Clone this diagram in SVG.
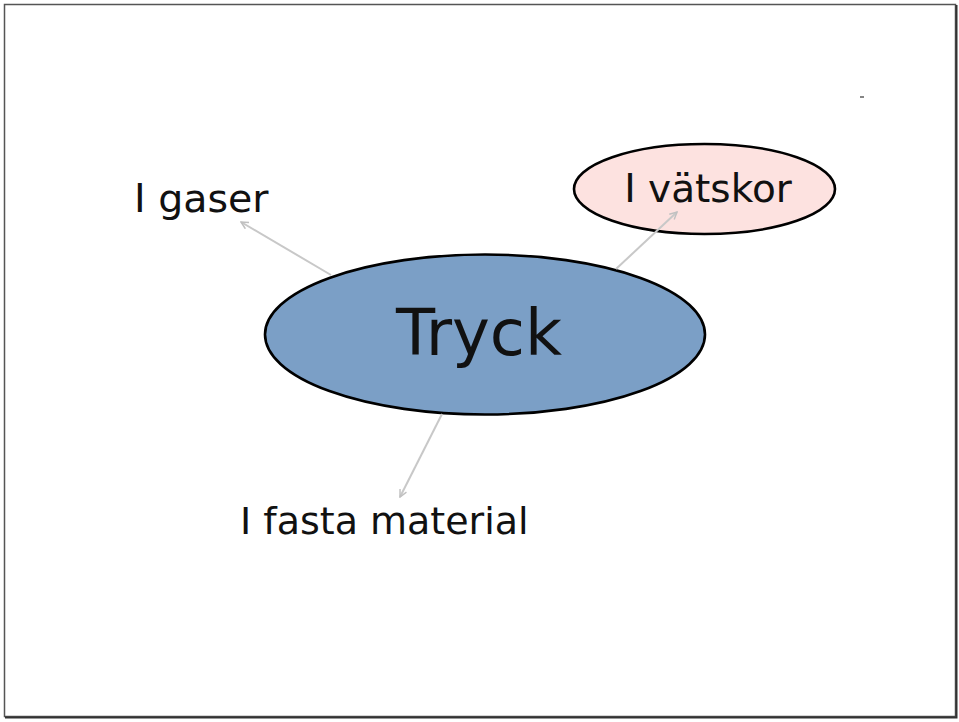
<svg xmlns="http://www.w3.org/2000/svg" width="959" height="722" viewBox="0 0 959 722">
<style>
.lbl{font-family:"DejaVu Sans","Verdana",sans-serif;fill:#111;}
.conn{stroke:#c8c8c8;stroke-width:2;fill:none;}
.node{stroke:#000;stroke-width:2.6;}
</style>
<defs>
<marker id="ah" viewBox="0 0 10 10" refX="9" refY="5" markerWidth="9" markerHeight="9" markerUnits="userSpaceOnUse" orient="auto">
<path d="M1,1 L9,5 L1,9" fill="none" stroke="#c0c0c0" stroke-width="1.6"/>
</marker>
</defs>
<rect x="0" y="0" width="959" height="722" fill="#fff"/>
<g id="frame">
<rect x="4.5" y="4.5" width="951" height="712" fill="none" stroke="#555" stroke-width="1.5"/>
<path d="M956.5,5 V717.5 H5" fill="none" stroke="#333" stroke-width="2"/>
</g>
<g id="tryck">
<ellipse class="node" cx="485" cy="334.5" rx="220" ry="80" fill="#7b9fc6"/>
<text class="lbl" x="479" y="355" font-size="64" text-anchor="middle">Tryck</text>
</g>
<g id="vatskor">
<ellipse class="node" cx="704.5" cy="189" rx="130.5" ry="45" fill="#fde2e0"/>
<text class="lbl" x="708" y="202" font-size="39" text-anchor="middle">I vätskor</text>
</g>
<g id="gaser">
<text class="lbl" x="134" y="212" font-size="39.5">I gaser</text>
</g>
<g id="fasta">
<text class="lbl" x="240" y="534" font-size="38">I fasta material</text>
</g>
<g id="connectors">
<line class="conn" x1="331" y1="275" x2="241" y2="222" marker-end="url(#ah)"/>
<line class="conn" x1="616" y1="269" x2="677" y2="212" marker-end="url(#ah)"/>
<line class="conn" x1="442" y1="414" x2="400" y2="497" marker-end="url(#ah)"/>
</g>
<line x1="860" y1="97" x2="864" y2="97" stroke="#333" stroke-width="1.2"/>
</svg>
